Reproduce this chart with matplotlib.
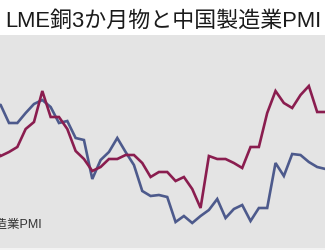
import matplotlib
matplotlib.use("Agg")
import matplotlib.pyplot as plt
from matplotlib.patches import Rectangle

plt.rcParams['font.family'] = ['Liberation Sans', 'Noto Sans CJK JP', 'DejaVu Sans']

# monthly index (relative units, no scale shown in the chart)
months = list(range(-1, 40))
pmi = [147, 145, 127, 127, 137, 146, 150, 143, 127, 129, 112, 110, 71, 90, 98, 112,
       98, 85, 59, 54, 55, 53, 28, 34, 27, 34, 40, 51, 32, 41, 45, 29, 42, 42,
       87, 74, 96, 95, 88, 83, 81]
copper = [102, 94, 98, 103, 121, 128, 159, 133, 133, 121, 99, 91, 79, 83, 91, 91,
          95, 95, 87, 73, 78, 78, 69, 73, 61, 42, 94, 91, 91, 87, 82, 103, 103,
          137, 159, 147, 142, 155, 164, 138, 138]

title = "LME銅3か月物と中国製造業PMI"
legend_label = "中国製造業PMI"

W, H = 325, 250
fig = plt.figure(figsize=(W / 100, H / 100), dpi=100, facecolor='white')
ax = fig.add_axes([0, 2 / H, 1, 213 / H])
ax.set_facecolor('#e4e4e4')
for s in ax.spines.values():
    s.set_visible(False)
ax.set_xticks([])
ax.set_yticks([])

ax.plot(months, pmi, color='#4d5a8c', lw=1.9, solid_joinstyle='miter')
ax.plot(months, copper, color='#8a1d4f', lw=1.9, solid_joinstyle='miter')
ax.set_xlim(-0.08, 38.94)
ax.set_ylim(2, 215)

fig.patches.append(Rectangle((0, 0), 1, 2 / H, transform=fig.transFigure,
                             facecolor='#f3f3f3', edgecolor='none'))

fig.text(163 / W, 1 - 27 / H, title, ha='center', va='baseline', fontsize=15.8,
         color='#1a1a1a')
fig.text(-42 / W, 1 - 225 / H, legend_label, ha='left', va='center',
         fontsize=9, color='#333333')

fig.savefig('out.png', dpi=100, facecolor='white')
